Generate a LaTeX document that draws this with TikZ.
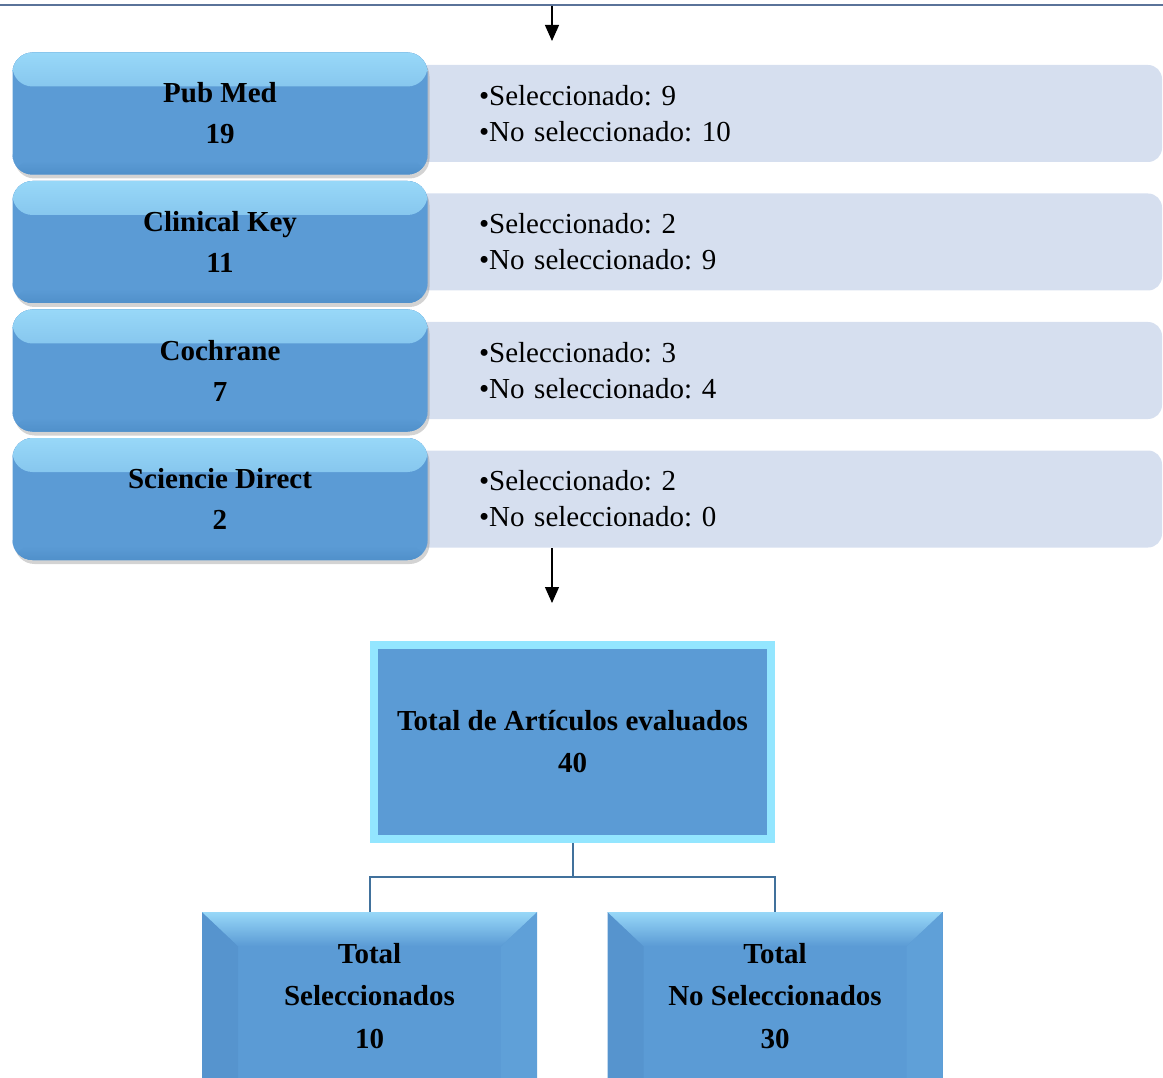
\documentclass[tikz,border=0pt]{standalone}
\usepackage{fontspec}
\setmainfont{Liberation Serif}
\usetikzlibrary{arrows.meta,shadows}

\definecolor{boxblue}{HTML}{5B9BD5}
\definecolor{boxdark}{HTML}{5090CA}
\definecolor{bevlight}{HTML}{98D8F8}
\definecolor{sidedark}{HTML}{5694CE}
\definecolor{sidelight}{HTML}{5FA0D8}
\definecolor{infofill}{HTML}{D6DFEF}
\definecolor{cyanedge}{HTML}{93E6FF}
\definecolor{treeblue}{HTML}{41719C}
\definecolor{rulegray}{HTML}{5A7399}

\begin{document}
\frenchspacing
\begin{tikzpicture}
[x=1pt,y=-1pt,
dbbox/.style={rounded corners=20pt,minimum width=415pt,minimum height=122pt,inner sep=0pt,
  fill=boxblue,
  path picture={
    \fill[top color=bevlight,bottom color=boxblue] (path picture bounding box.north west) rectangle ([yshift=-34pt]path picture bounding box.north east);
    \fill[top color=boxblue,bottom color=boxdark] ([yshift=14pt]path picture bounding box.south west) rectangle (path picture bounding box.south east);
  },
  drop shadow={shadow xshift=2pt,shadow yshift=-4pt,opacity=.35},
  align=center,font=\fontsize{29}{41}\selectfont\bfseries},
infobox/.style={rounded corners=14pt,fill=infofill,minimum height=97pt,text width=604pt,
  inner xsep=79pt,inner ysep=0pt,align=left,font=\fontsize{29}{36}\selectfont},
totalbox/.style={fill=boxblue,draw=cyanedge,line width=8pt,minimum width=397pt,minimum height=194pt,
  inner sep=0pt,outer sep=4pt,align=center,font=\fontsize{29}{42}\selectfont\bfseries,
  drop shadow={shadow xshift=3pt,shadow yshift=-4pt,opacity=.35}},
bevelbox/.style={fill=boxblue,minimum width=335pt,minimum height=168pt,inner sep=0pt,
  align=center,font=\fontsize{29}{42.5}\selectfont\bfseries,
  path picture={
    \fill[sidedark] (path picture bounding box.north west) -- ([xshift=36pt,yshift=-34pt]path picture bounding box.north west)
      -- ([xshift=36pt]path picture bounding box.south west) -- (path picture bounding box.south west) -- cycle;
    \fill[sidelight] (path picture bounding box.north east) -- ([xshift=-36pt,yshift=-34pt]path picture bounding box.north east)
      -- ([xshift=-36pt]path picture bounding box.south east) -- (path picture bounding box.south east) -- cycle;
    \fill[top color=bevlight,bottom color=boxblue] (path picture bounding box.north west) -- (path picture bounding box.north east)
      -- ([xshift=-36pt,yshift=-34pt]path picture bounding box.north east) -- ([xshift=36pt,yshift=-34pt]path picture bounding box.north west) -- cycle;
  }},
flow/.style={-{Triangle[width=14pt,length=16pt]},line width=1.2pt},
tree/.style={treeblue,line width=2pt}]
\useasboundingbox (0,0) rectangle (1163,1078);
\clip (0,0) rectangle (1163,1078);

\draw[rulegray,line width=2.5pt] (0,5) -- (1163,5);

\coordinate (in1) at (552,6);
\coordinate (out1) at (552,41);
\draw[flow] (in1) -- (out1);

% databases
\foreach \i / \db / \n / \s / \ns in {1/Pub Med/19/9/10,2/Clinical Key/11/2/9,3/Cochrane/7/3/4,4/Sciencie Direct/2/2/0}
{
	\node[infobox] (info\i) at (781,{113.5+128.5*(\i-1)}) {•Seleccionado: \s\\•No seleccionado: \ns};
	\node[dbbox] (db\i) at (220,{113.5+128.5*(\i-1)}) {\db\\\n};
}

\coordinate (in2) at (552,548);
\coordinate (out2) at (552,603);
\draw[flow] (in2) -- (out2);

\node[totalbox] (total) at (572.5,742) {Total de Artículos evaluados\\40};

\node[bevelbox] (sel) at (369.5,996) {Total\\Seleccionados\\10};
\node[bevelbox] (nosel) at (775,996) {Total\\No Seleccionados\\30};

\draw[tree] (total.south) -- ++(0,34) -| (sel.north);
\draw[tree] (total.south) -- ++(0,34) -| (nosel.north);
\end{tikzpicture}
\end{document}
